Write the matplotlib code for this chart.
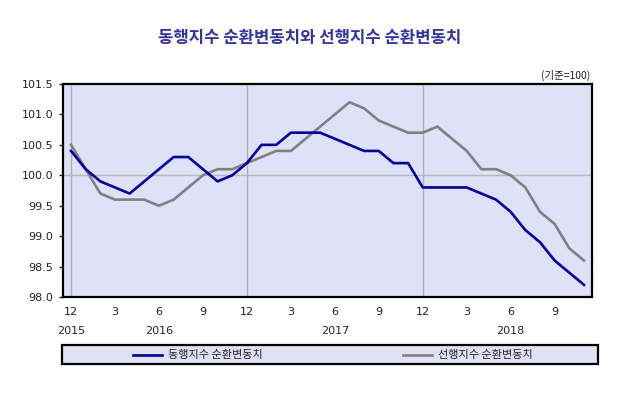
import matplotlib.pyplot as plt
from matplotlib.lines import Line2D
from matplotlib.patches import Rectangle
from matplotlib.transforms import blended_transform_factory

# ----------------------------------------
# Data (monthly, Dec 2015 - Nov 2018)
# ----------------------------------------
coincident = [100.4, 100.1, 99.9, 99.8, 99.7, 99.9, 100.1, 100.3, 100.3, 100.1, 99.9, 100.0,
              100.2, 100.5, 100.5, 100.7, 100.7, 100.7, 100.6, 100.5, 100.4, 100.4, 100.2, 100.2,
              99.8, 99.8, 99.8, 99.8, 99.7, 99.6, 99.4, 99.1, 98.9, 98.6, 98.4, 98.2]
leading = [100.5, 100.1, 99.7, 99.6, 99.6, 99.6, 99.5, 99.6, 99.8, 100.0, 100.1, 100.1,
           100.2, 100.3, 100.4, 100.4, 100.6, 100.8, 101.0, 101.2, 101.1, 100.9, 100.8, 100.7,
           100.7, 100.8, 100.6, 100.4, 100.1, 100.1, 100.0, 99.8, 99.4, 99.2, 98.8, 98.6]
month_ticks = [0, 3, 6, 9, 12, 15, 18, 21, 24, 27, 30, 33]
month_labels = ["12", "3", "6", "9", "12", "3", "6", "9", "12", "3", "6", "9"]
year_pos = [0, 6, 18, 30]
year_labels = ["2015", "2016", "2017", "2018"]
year_gridlines = [0, 12, 24]

title = "동행지수 순환변동치와 선행지수 순환변동치"
name_coin = "동행지수 순환변동치"
name_lead = "선행지수 순환변동치"

BG = "#dfe2f6"
BLUE = "#0000a8"
GRAY = "#808080"

plt.rcParams['font.family'] = ['Noto Sans CJK KR', 'DejaVu Sans']

# ----------------------------------------
# Plot
# ----------------------------------------
fig = plt.figure(figsize=(6.4, 3.94), dpi=100)
ax = fig.add_axes([63 / 640, 1 - 297 / 394, 529 / 640, 213 / 394])
ax.set_facecolor(BG)

x = list(range(len(coincident)))
for g in year_gridlines:
    ax.axvline(g, color="#b0b0b0", lw=1, zorder=1)
ax.axhline(100.0, color="#b8b8b8", lw=1, zorder=1)

ax.plot(x, leading, color=GRAY, lw=1.9, zorder=3)
ax.plot(x, coincident, color=BLUE, lw=1.9, zorder=4)

ax.set_xlim(-0.55, 35.55)
ax.set_ylim(98.0, 101.5)
ax.set_yticks([98.0, 98.5, 99.0, 99.5, 100.0, 100.5, 101.0, 101.5])
ax.set_yticklabels([f"{v:.1f}" for v in ax.get_yticks()], family=['DejaVu Sans'])
ax.set_xticks(month_ticks)
ax.set_xticklabels(month_labels, family=['DejaVu Sans'])
ax.tick_params(axis="y", labelsize=8, length=3, width=1, pad=4, colors="#222222")
ax.tick_params(axis="x", labelsize=8, length=0, pad=7, colors="#222222")
for s in ax.spines.values():
    s.set_linewidth(1.6)
    s.set_color("black")

# year labels under the month labels
trans = blended_transform_factory(ax.transData, fig.transFigure)
for p, lab in zip(year_pos, year_labels):
    fig.text(p, 1 - 331 / 394, lab, transform=trans, ha="center", va="center",
             fontsize=8, family=['DejaVu Sans'], color="#222222")

fig.text(310 / 640, 1 - 38 / 394, title, ha="center", va="center",
         fontsize=12, fontweight="bold", color="#3434a6")
fig.text(590 / 640, 1 - 75 / 394, "(기준=100)", ha="right", va="center",
         fontsize=7.5, color="#222222")

# ----------------------------------------
# Legend box
# ----------------------------------------
fig.add_artist(Rectangle((62 / 640, 1 - 364 / 394), 536 / 640, 19 / 394,
                         transform=fig.transFigure, facecolor=BG,
                         edgecolor="black", lw=1.6))
ly = 1 - 354.5 / 394
fig.add_artist(Line2D([133 / 640, 162 / 640], [ly, ly], transform=fig.transFigure,
                      color=BLUE, lw=1.9))
fig.text(168 / 640, ly, name_coin, ha="left", va="center", fontsize=8, color="#222222")
fig.add_artist(Line2D([403 / 640, 432 / 640], [ly, ly], transform=fig.transFigure,
                      color=GRAY, lw=1.9))
fig.text(438 / 640, ly, name_lead, ha="left", va="center", fontsize=8, color="#222222")

fig.savefig("out.png", dpi=100)
